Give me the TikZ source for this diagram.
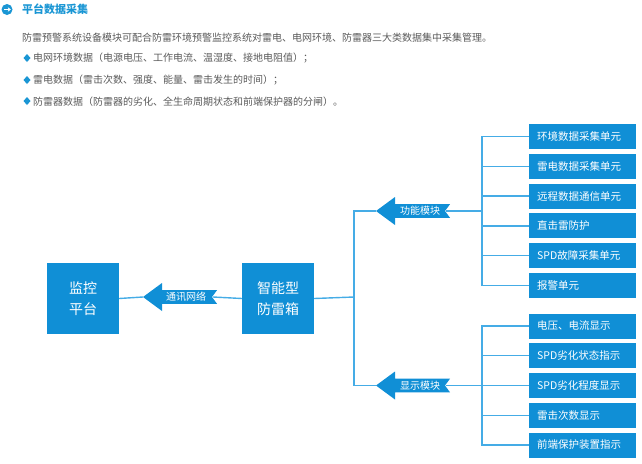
\documentclass[tikz,border=0pt]{standalone}
\usepackage{fontspec}
\setmainfont{Noto Sans CJK SC}
\usetikzlibrary{arrows.meta}
\definecolor{boxblue}{HTML}{108FD6}
\definecolor{lnblue}{HTML}{45ACE6}
\definecolor{ttlblue}{HTML}{1A96D4}
\definecolor{txtgray}{HTML}{5A5A5A}
\tikzset{
  ln/.style={draw=lnblue, line width=1.4pt},
  bigbox/.style={fill=boxblue, text=white, minimum width=72pt, minimum height=71pt, inner sep=0pt, align=center, font=\fontsize{14}{21}\selectfont},
  unitbox/.style={fill=boxblue, text=white, anchor=west, text width=91pt, inner xsep=8pt, inner ysep=0pt, minimum height=25pt, align=left, font=\fontsize{10.5}{12}\selectfont},
  albl/.style={text=white, inner sep=0pt, font=\fontsize{10}{12}\selectfont},
  bodytxt/.style={text=txtgray, anchor=west, inner sep=0pt, font=\fontsize{10}{12}\selectfont},
  bullet/.style={fill=ttlblue, draw=none},
  larrow/.pic={\fill[boxblue] (0,0) -- (19,-14) -- (19,-6.8) -- (74,-6.8) -- (69,0) -- (74,6.8) -- (19,6.8) -- (19,14) -- cycle;}
}
\begin{document}
\begin{tikzpicture}[x=1pt,y=-1pt]
\useasboundingbox (0,0) rectangle (642,463);
% title
\fill[ttlblue] (7,9.5) circle (5.5);
\draw[white, line width=1.3pt, -{Stealth[length=3pt,width=4.5pt]}] (3.8,9.5) -- (10.8,9.5);
\node[anchor=west, inner sep=0pt, text=ttlblue, font=\fontsize{11}{13}\selectfont\bfseries] (title) at (22,9.5) {平台数据采集};
% body text
\node[bodytxt] (l1) at (22,37.5) {防雷预警系统设备模块可配合防雷环境预警监控系统对雷电、电网环境、防雷器三大类数据集中采集管理。};
\fill[bullet] (27,54) -- (30.5,58) -- (27,62) -- (23.5,58) -- cycle;
\node[bodytxt] (l2) at (33,58.5) {电网环境数据（电源电压、工作电流、温湿度、接地电阻值）；};
\fill[bullet] (27,76) -- (30.5,80) -- (27,84) -- (23.5,80) -- cycle;
\node[bodytxt] (l3) at (33,80.5) {雷电数据（雷击次数、强度、能量、雷击发生的时间）；};
\fill[bullet] (27,97) -- (30.5,101) -- (27,105) -- (23.5,101) -- cycle;
\node[bodytxt] (l4) at (33,101.5) {防雷器数据（防雷器的劣化、全生命周期状态和前端保护器的分闸）。};
% big boxes
\node[bigbox] (mon) at (83,298.5) {监控\\平台};
\node[bigbox] (box) at (278,298.5) {智能型\\防雷箱};
% comm arrow
\pic at (143,297) {larrow};
\coordinate (commtip) at (143,297);
\coordinate (commtail) at (213,297);
\node[albl] (comm) at (186,297) {通讯网络};
\draw[ln] (mon.east) -- (commtip);
\draw[ln] (commtail) -- (box.west);
% trunk
\coordinate (trunk) at (354,297);
\draw[ln] (box.east) -- (trunk);
% function arrow
\pic at (376,211) {larrow};
\coordinate (ftip) at (376,211);
\coordinate (ftail) at (446,211);
\node[albl] (fmod) at (420,211) {功能模块};
% display arrow
\pic at (376,385.5) {larrow};
\coordinate (dtip) at (376,385.5);
\coordinate (dtail) at (446,385.5);
\node[albl] (dmod) at (420,385.5) {显示模块};
\draw[ln] (ftip) -| (trunk);
\draw[ln] (dtip) -| (trunk);
% function units
\node[unitbox] (f1) at (529,136.5) {环境数据采集单元};
\node[unitbox] (f2) at (529,166.3) {雷电数据采集单元};
\node[unitbox] (f3) at (529,196.1) {远程数据通信单元};
\node[unitbox] (f4) at (529,225.9) {直击雷防护};
\node[unitbox] (f5) at (529,255.7) {SPD故障采集单元};
\node[unitbox] (f6) at (529,285.5) {报警单元};
\coordinate (fbr) at (482,211);
\draw[ln] (ftail) -- (fbr);
\foreach \n in {f1,f2,f3,f4,f5,f6} \draw[ln] (fbr) |- (\n.west);
% display units
\node[unitbox] (d1) at (529,326) {电压、电流显示};
\node[unitbox] (d2) at (529,355.7) {SPD劣化状态指示};
\node[unitbox] (d3) at (529,385.5) {SPD劣化程度显示};
\node[unitbox] (d4) at (529,415.2) {雷击次数显示};
\node[unitbox] (d5) at (529,445) {前端保护装置指示};
\coordinate (dbr) at (482,385.5);
\draw[ln] (dtail) -- (dbr);
\foreach \n in {d1,d2,d3,d4,d5} \draw[ln] (dbr) |- (\n.west);
\end{tikzpicture}
\end{document}
